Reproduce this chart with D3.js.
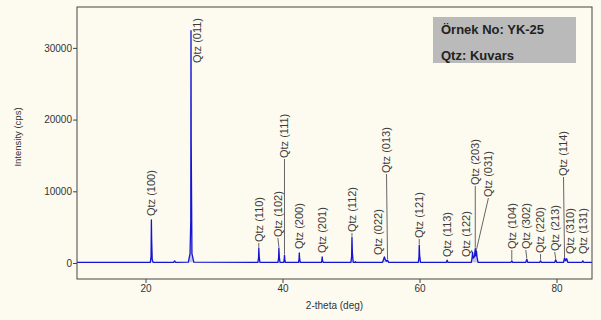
<!DOCTYPE html>
<html lang="tr">
<head>
<meta charset="UTF-8">
<title>XRD YK-25</title>
<style>
    body { margin: 0; background: #fdfaf0; }
    svg { display: block; font-family: Arial, "Liberation Sans", sans-serif; }
    .axis text { fill: #333; font-size: 10px; }
    .axis line { stroke: #444; }
    .peak-label { fill: #3a3a3a; font-size: 11px; }
</style>
<script src="https://d3js.org/d3.v7.min.js"></script>
</head>
<body>
<div id="chart"></div>
<script>
// tick values
const xTicks = [20, 40, 60, 80];
const yTicks = [0, 10000, 20000, 30000];

const pattern = [
    [10.0, 100], [20.70, 100], [20.81, 900], [20.86, 6000], [20.90, 3200], [20.98, 500], [21.10, 100],
    [24.10, 100], [24.25, 300], [24.40, 100],
    [26.25, 120], [26.50, 1300], [26.61, 6000], [26.64, 32400], [26.67, 17000], [26.78, 1300], [27.05, 120],
    [36.40, 100], [36.50, 700], [36.54, 2100], [36.60, 900], [36.70, 100],
    [39.33, 100], [39.43, 700], [39.47, 2100], [39.53, 900], [39.63, 100],
    [40.18, 100], [40.25, 500], [40.29, 1100], [40.34, 500], [40.42, 100],
    [42.33, 100], [42.41, 500], [42.45, 1400], [42.50, 600], [42.60, 100],
    [45.68, 100], [45.75, 400], [45.79, 850], [45.84, 400], [45.93, 100],
    [49.98, 100], [50.09, 900], [50.14, 3600], [50.20, 1400], [50.32, 100],
    [50.55, 100], [50.62, 200], [50.70, 100],
    [54.60, 100], [54.75, 500], [54.87, 850], [55.00, 500], [55.15, 250], [55.33, 400], [55.48, 100],
    [59.82, 100], [59.92, 800], [59.96, 2500], [60.02, 1100], [60.14, 100],
    [63.92, 100], [64.03, 400], [64.14, 100],
    [67.55, 100], [67.68, 700], [67.74, 1500], [67.85, 700], [68.02, 900], [68.14, 2000],
    [68.22, 1000], [68.31, 1700], [68.40, 800], [68.55, 100],
    [73.35, 100], [73.47, 300], [73.60, 100],
    [75.52, 100], [75.66, 550], [75.80, 100],
    [77.55, 100], [77.67, 300], [77.80, 100],
    [79.75, 100], [79.88, 450], [80.02, 100],
    [81.02, 100], [81.17, 700], [81.30, 350], [81.49, 600], [81.65, 100],
    [83.72, 100], [83.84, 300], [83.96, 100], [85.18, 100]
];

// quartz reflections
const peakHkl = ["(100)", "(011)", "(110)", "(102)", "(111)", "(200)", "(201)", "(112)", "(022)", "(013)",
    "(121)", "(113)", "(122)", "(203)", "(031)", "(104)", "(302)", "(220)", "(213)", "(114)", "(310)", "(131)"];
const peakTheta = [20.86, 26.64, 36.54, 39.47, 40.29, 42.45, 45.79, 50.14, 54.87, 55.33,
    59.96, 64.03, 67.74, 68.14, 68.31, 73.47, 75.66, 77.67, 79.88, 81.17, 81.49, 83.84];
const peakTop = [6000, 32400, 2100, 2100, 1100, 1400, 850, 3600, 850, 400,
    2500, 400, 1500, 2000, 1700, 300, 550, 300, 450, 700, 600, 300];

const legendLines = ["Örnek No: YK-25", "Qtz: Kuvars"];
const xTitle = "2-theta (deg)";
const yTitle = "Intensity (cps)";

// label placement: dx (px from peak), bottom (px of text start)
const labelLayout = {
    "(100)": { dx: 0, bottom: 216 },
    "(011)": { dx: 6, bottom: 63, noLeader: true },
    "(110)": { dx: 0, bottom: 242 },
    "(102)": { dx: -1, bottom: 237 },
    "(111)": { dx: 0, bottom: 158 },
    "(200)": { dx: 0, bottom: 249 },
    "(201)": { dx: 0, bottom: 253 },
    "(112)": { dx: 0, bottom: 232 },
    "(022)": { dx: -6, bottom: 255, noLeader: true },
    "(013)": { dx: -1, bottom: 173 },
    "(121)": { dx: 0, bottom: 238 },
    "(113)": { dx: 0, bottom: 257, noLeader: true },
    "(122)": { dx: -6, bottom: 257, noLeader: true },
    "(203)": { dx: 0, bottom: 185 },
    "(031)": { dx: 12, bottom: 197 },
    "(104)": { dx: 0, bottom: 249 },
    "(302)": { dx: -1, bottom: 249 },
    "(220)": { dx: 0, bottom: 253 },
    "(213)": { dx: -1, bottom: 251 },
    "(114)": { dx: -1, bottom: 176 },
    "(310)": { dx: 3, bottom: 254, noLeader: true },
    "(131)": { dx: 0, bottom: 254, noLeader: true }
};

const width = 601, height = 320;
const plot = { left: 77, right: 592, top: 7, bottom: 279 };

const x = d3.scaleLinear().domain([10, 85.18]).range([plot.left, plot.right]);
const y = d3.scaleLinear().domain([-2230, 35700]).range([plot.bottom, plot.top]);

const svg = d3.select("#chart").append("svg")
    .attr("width", width)
    .attr("height", height);

svg.append("rect")
    .attr("width", width).attr("height", height)
    .attr("fill", "#fdfaf0");

// pattern
svg.append("path")
    .datum(pattern)
    .attr("fill", "#8c8ce6")
    .attr("fill-opacity", 0.5)
    .attr("d", d3.area().x(d => x(d[0])).y0(y(100)).y1(d => y(d[1])));

svg.append("path")
    .datum(pattern)
    .attr("fill", "none")
    .attr("stroke", "#1414d2")
    .attr("stroke-width", 1.3)
    .attr("stroke-linejoin", "round")
    .attr("d", d3.line().x(d => x(d[0])).y(d => y(d[1])));

// frame
svg.append("rect")
    .attr("x", plot.left).attr("y", plot.top)
    .attr("width", plot.right - plot.left).attr("height", plot.bottom - plot.top)
    .attr("fill", "none")
    .attr("stroke", "#444")
    .attr("stroke-width", 1);

const xAxis = svg.append("g")
    .attr("class", "axis")
    .attr("transform", `translate(0,${plot.bottom})`)
    .call(d3.axisBottom(x).tickValues(xTicks).tickSize(4).tickPadding(2).tickFormat(d3.format("d")));
xAxis.select(".domain").remove();

const yAxis = svg.append("g")
    .attr("class", "axis")
    .attr("transform", `translate(${plot.left},0)`)
    .call(d3.axisLeft(y).tickValues(yTicks).tickSize(4).tickPadding(1).tickFormat(d3.format("d")));
yAxis.select(".domain").remove();

svg.append("text")
    .attr("x", (plot.left + plot.right) / 2)
    .attr("y", 309)
    .attr("text-anchor", "middle")
    .attr("font-size", 10)
    .attr("fill", "#333")
    .text(xTitle);

svg.append("text")
    .attr("transform", "translate(21,137) rotate(-90)")
    .attr("text-anchor", "middle")
    .attr("font-size", 9.5)
    .attr("fill", "#333")
    .text(yTitle);

// peak labels + leaders
const labels = svg.append("g");
peakHkl.forEach((hkl, i) => {
    const lay = labelLayout[hkl];
    const px = x(peakTheta[i]);
    const lx = px + lay.dx;
    const top = y(peakTop[i]) - 1;
    if (!lay.noLeader && top - lay.bottom > 3) {
        labels.append("line")
            .attr("x1", px).attr("y1", top)
            .attr("x2", lx).attr("y2", lay.bottom + 1)
            .attr("stroke", "#666")
            .attr("stroke-width", 1);
    }
    labels.append("text")
        .attr("class", "peak-label")
        .attr("transform", `translate(${lx},${lay.bottom}) rotate(-90)`)
        .attr("dy", "0.35em")
        .text("Qtz " + hkl);
});

// legend box
const legend = svg.append("g");
legend.append("rect")
    .attr("x", 433).attr("y", 17)
    .attr("width", 143).attr("height", 46)
    .attr("fill", "#bababa");
legend.selectAll("text")
    .data(legendLines)
    .enter().append("text")
    .attr("x", 441)
    .attr("y", (d, i) => 34 + i * 26)
    .attr("font-size", 13)
    .attr("font-weight", "bold")
    .attr("fill", "#222")
    .text(d => d);
</script>
</body>
</html>
